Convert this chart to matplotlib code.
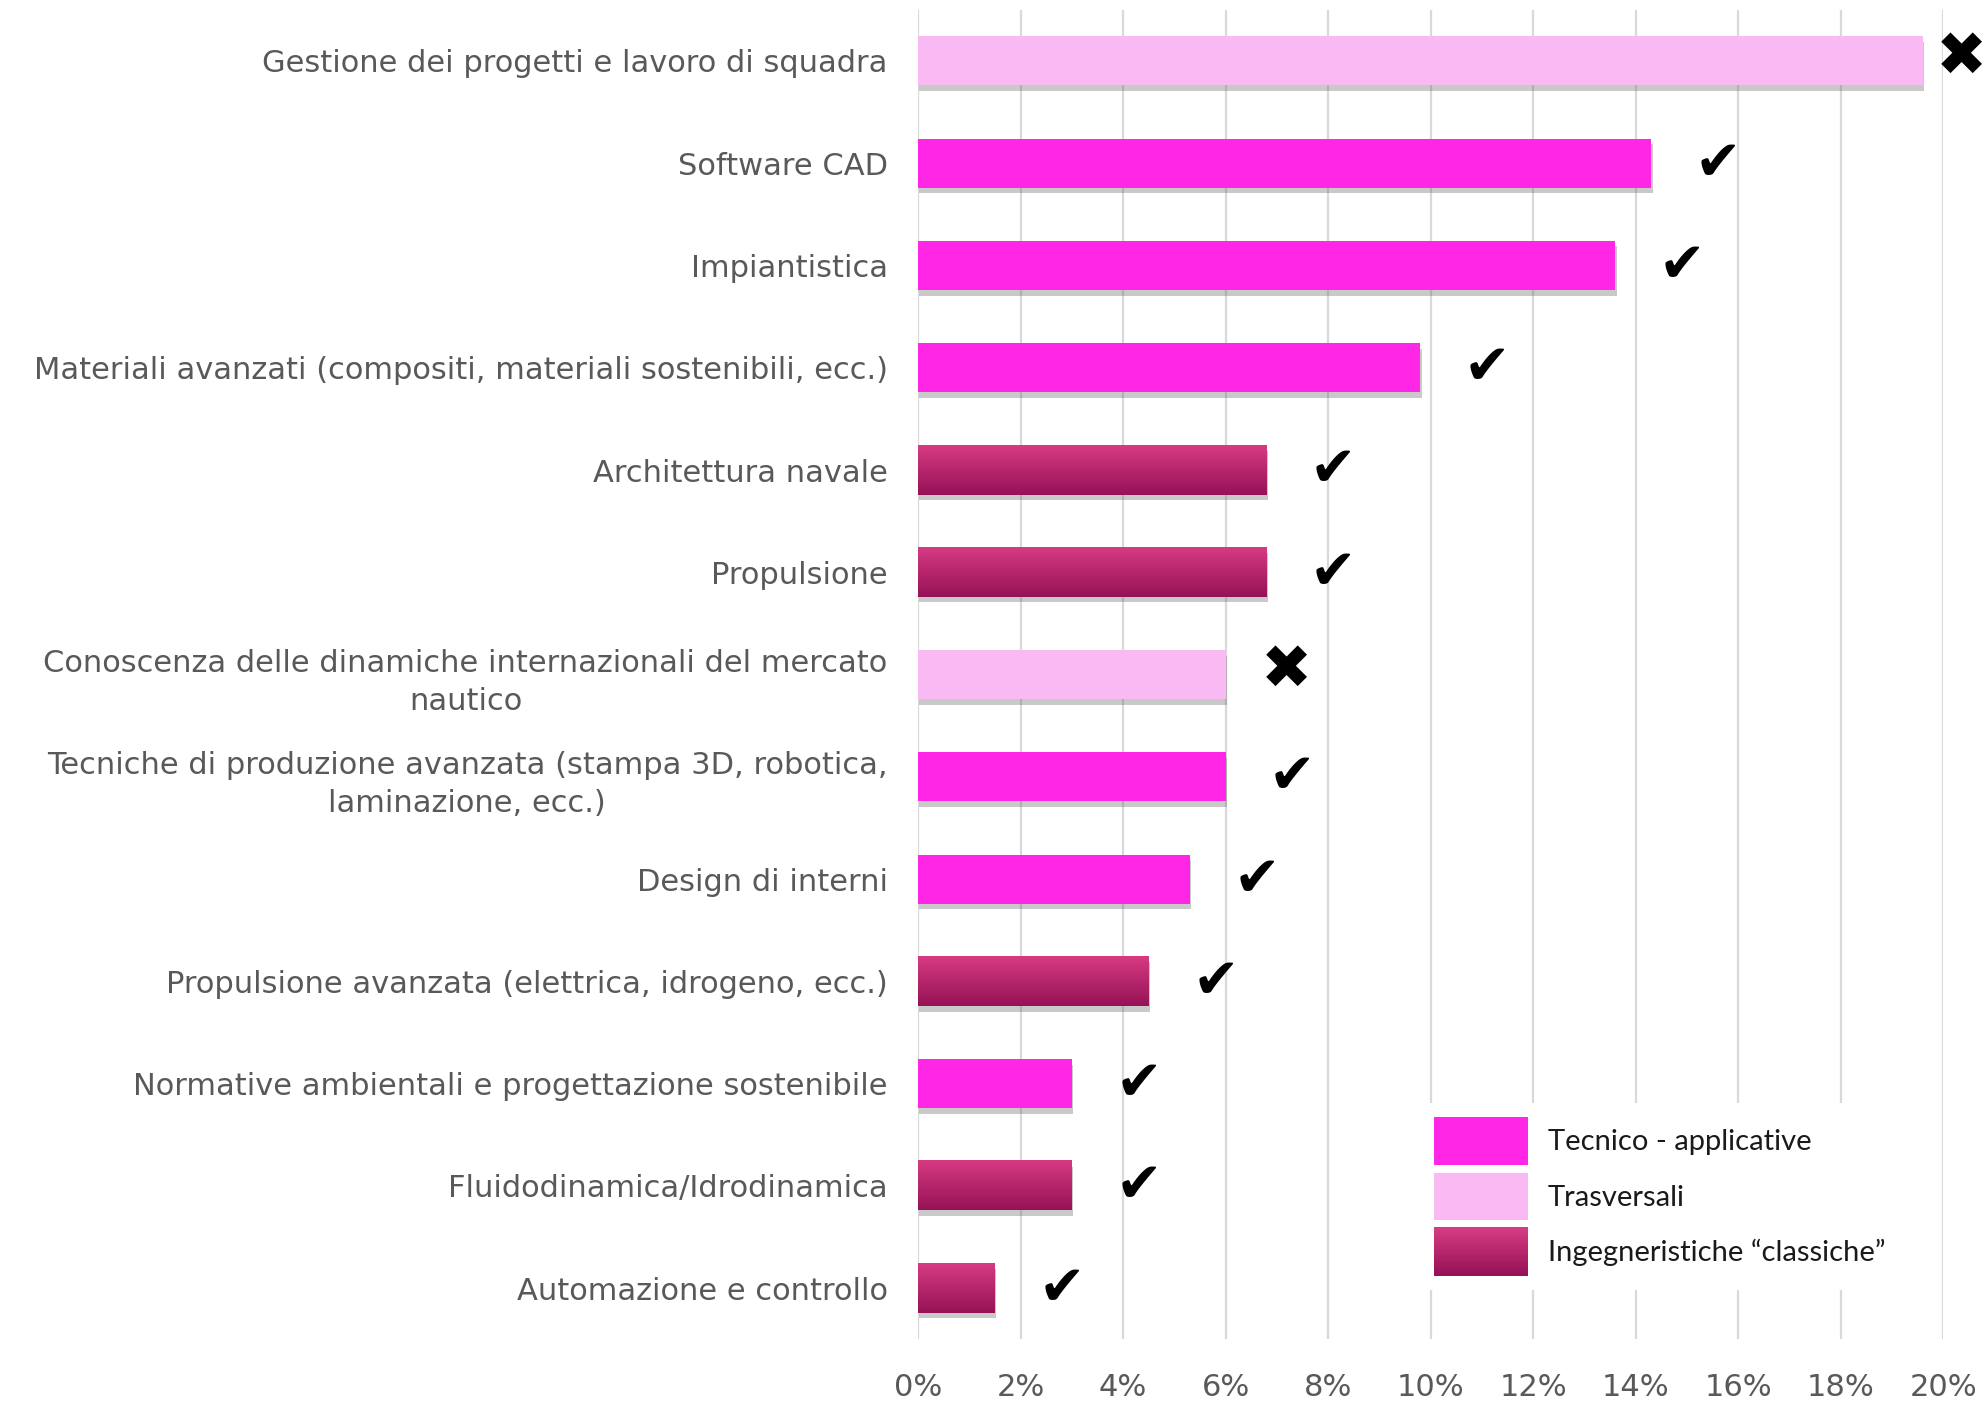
import numpy as np
import matplotlib
matplotlib.use("Agg")
import matplotlib.pyplot as plt
import matplotlib.patheffects as pe
from matplotlib.patches import Patch, Rectangle
from matplotlib.legend_handler import HandlerBase


categories = [
    "Gestione dei progetti e lavoro di squadra",
    "Software CAD",
    "Impiantistica",
    "Materiali avanzati (compositi, materiali sostenibili, ecc.)",
    "Architettura navale",
    "Propulsione",
    "Conoscenza delle dinamiche internazionali del mercato\nnautico",
    "Tecniche di produzione avanzata (stampa 3D, robotica,\nlaminazione, ecc.)",
    "Design di interni",
    "Propulsione avanzata (elettrica, idrogeno, ecc.)",
    "Normative ambientali e progettazione sostenibile",
    "Fluidodinamica/Idrodinamica",
    "Automazione e controllo",
]
values = [19.6, 14.3, 13.6, 9.8, 6.8, 6.8, 6.0, 6.0, 5.3, 4.5, 3.0, 3.0, 1.5]
groups = ["T", "A", "A", "A", "I", "I", "T", "A", "A", "I", "A", "I", "I"]
marks = ["x", "v", "v", "v", "v", "v", "x", "v", "v", "v", "v", "v", "v"]
x_ticks = [0, 2, 4, 6, 8, 10, 12, 14, 16, 18, 20]

group_labels = {
    "A": "Tecnico - applicative",
    "T": "Trasversali",
    "I": "Ingegneristiche \u201cclassiche\u201d",
}

COL_A = "#ff26e6"
COL_T = "#f9b9f3"
GRAD_TOP = np.array([0.84, 0.23, 0.51])
GRAD_BOT = np.array([0.59, 0.07, 0.34])
LABEL_COL = "#595959"
GRID_COL = "#d9d9d9"


def gradient_img(n=64):
    t = np.linspace(0, 1, n)[:, None]
    rgb = GRAD_TOP[None, :] * (1 - t) + GRAD_BOT[None, :] * t
    return rgb[:, None, :]


class GradientHandler(HandlerBase):
    def create_artists(self, legend, orig_handle, xdescent, ydescent,
                       width, height, fontsize, trans):
        arts = []
        n = 20
        for i in range(n):
            t = i / (n - 1)
            c = GRAD_TOP * (1 - t) + GRAD_BOT * t
            r = Rectangle((-xdescent, -ydescent + height * (1 - (i + 1) / n)),
                          width, height / n + 0.3, facecolor=c,
                          edgecolor="none", transform=trans)
            arts.append(r)
        return arts


fig = plt.figure(figsize=(19.85, 14.01), dpi=100)
ax = fig.add_axes([0.4625, 0.044, 0.5165, 0.949])

y = np.arange(len(categories))
colors = [COL_A if g == "A" else COL_T if g == "T" else GRAD_BOT for g in groups]
shadow = [pe.SimplePatchShadow(offset=(1, -4), shadow_rgbFace="#666666", alpha=0.35),
          pe.Normal()]
bars = ax.barh(y, values, height=0.48, color=colors, zorder=3)
for b in bars:
    b.set_path_effects(shadow)

# gradient fill for the "classiche" bars
for b, g in zip(bars, groups):
    if g == "I":
        x0, y0 = b.get_x(), b.get_y()
        ax.imshow(gradient_img(), extent=(x0, x0 + b.get_width(), y0 + b.get_height(), y0),
                  aspect="auto", origin="upper", zorder=4, interpolation="bilinear")

for yi, v, m in zip(y, values, marks):
    if m == "v":
        ax.annotate("\u2714", (v, yi), xytext=(48, -1), textcoords="offset points",
                    ha="center", va="center", fontsize=40, color="black",
                    family="DejaVu Sans", zorder=5)
    else:
        off = 28 if v > 15 else 44
        ax.annotate("\u2716", (v, yi), xytext=(off, 2), textcoords="offset points",
                    ha="center", va="center", fontsize=44, color="black",
                    family="DejaVu Sans", zorder=5, annotation_clip=False)

ax.set_xlim(0, 20)
ax.set_ylim(len(categories) - 0.5, -0.5)
ax.set_xticks(x_ticks)
ax.set_xticklabels([f"{t}%" for t in x_ticks], fontsize=22, color=LABEL_COL,
                   family="DejaVu Sans")
ax.set_yticks(y)
ax.set_yticklabels(categories, fontsize=22, color=LABEL_COL, family="DejaVu Sans",
                   linespacing=1.4)
for lab in ax.get_yticklabels():
    lab.set_multialignment("center")

ax.tick_params(axis="both", length=0)
ax.tick_params(axis="y", pad=22)
ax.tick_params(axis="x", pad=24)
ax.xaxis.grid(True, color=GRID_COL, linewidth=1.6, zorder=0)
ax.set_axisbelow(True)
for s in ax.spines.values():
    s.set_visible(False)

handles = [Patch(facecolor=COL_A), Patch(facecolor=COL_T), Patch(facecolor=GRAD_BOT)]
leg = ax.legend(handles, [group_labels["A"], group_labels["T"], group_labels["I"]],
                loc="lower left", bbox_to_anchor=(0.475, 0.026),
                prop={"family": "Lato", "size": 21},
                handlelength=3.2, handleheight=2.15, handletextpad=0.7,
                labelspacing=0.25, borderpad=0.5, frameon=True, framealpha=1,
                edgecolor="none", facecolor="white", fancybox=False,
                handler_map={handles[2]: GradientHandler()})
leg.set_zorder(6)
for t in leg.get_texts():
    t.set_color("#1a1a1a")

fig.savefig("out.png", dpi=100)
